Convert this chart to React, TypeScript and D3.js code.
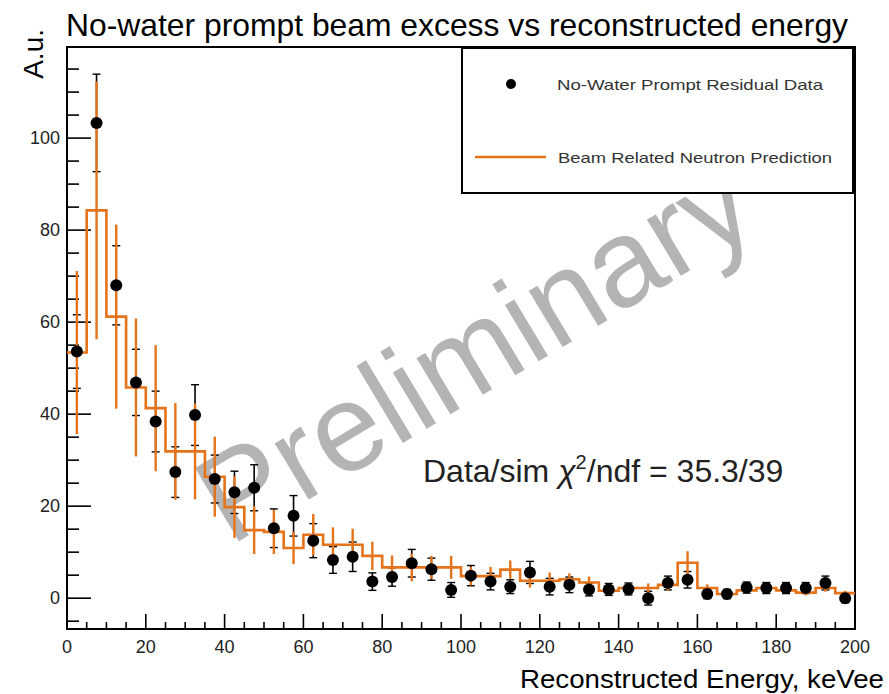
import React from "react";
import * as d3 from "d3";

const binCenters = [
  2.5, 7.5, 12.5, 17.5, 22.5, 27.5, 32.5, 37.5, 42.5, 47.5,
  52.5, 57.5, 62.5, 67.5, 72.5, 77.5, 82.5, 87.5, 92.5, 97.5,
  102.5, 107.5, 112.5, 117.5, 122.5, 127.5, 132.5, 137.5, 142.5, 147.5,
  152.5, 157.5, 162.5, 167.5, 172.5, 177.5, 182.5, 187.5, 192.5, 197.5,
];
const binWidth = 5;

const dataValues = [
  53.6, 103.3, 68.0, 46.9, 38.4, 27.4, 39.8, 25.9, 23.0, 24.0,
  15.2, 17.9, 12.5, 8.3, 9.0, 3.6, 4.6, 7.6, 6.3, 1.8,
  4.9, 3.6, 2.5, 5.6, 2.5, 2.9, 1.9, 1.9, 2.0, 0.0,
  3.3, 4.0, 0.9, 0.9, 2.3, 2.2, 2.2, 2.2, 3.3, 0.0,
];
const dataErrors = [
  8.0, 10.6, 8.6, 7.2, 6.6, 5.5, 6.6, 5.2, 4.6, 5.0,
  4.2, 4.4, 3.7, 2.9, 3.2, 1.9, 2.0, 3.0, 2.4, 1.6,
  2.2, 1.8, 1.5, 2.4, 1.8, 1.7, 1.4, 1.3, 1.3, 1.5,
  1.5, 1.8, 1.0, 1.0, 1.2, 1.2, 1.2, 1.2, 1.5, 1.0,
];
const predValues = [
  53.4, 84.3, 61.2, 45.8, 41.3, 31.9, 31.9, 26.4, 19.8, 14.8,
  14.4, 10.9, 13.8, 11.6, 11.6, 9.2, 6.7, 6.7, 6.7, 6.7,
  4.8, 4.8, 6.2, 3.8, 3.8, 4.1, 3.4, 1.6, 2.2, 2.2,
  2.9, 7.7, 2.2, 0.9, 1.7, 2.2, 1.7, 1.2, 2.2, 1.1,
];
const predErrors = [
  17.7, 28.0, 20.0, 15.0, 13.7, 10.5, 10.4, 8.7, 6.7, 5.2,
  4.8, 3.5, 4.5, 3.8, 3.5, 3.1, 2.6, 3.0, 2.5, 2.5,
  2.0, 2.0, 2.0, 1.5, 1.8, 1.3, 1.3, 0.8, 1.0, 1.0,
  1.2, 2.5, 0.8, 0.5, 0.6, 0.8, 0.7, 0.6, 0.8, 0.5,
];

const titleText = "No-water prompt beam excess vs reconstructed energy";
const xAxisTitle = "Reconstructed Energy, keVee";
const yAxisTitle = "A.u.";
const legendData = "No-Water Prompt Residual Data";
const legendPred = "Beam Related Neutron Prediction";
const watermark = "Preliminary";

const W = 889;
const H = 694;
const left = 67;
const right = 855;
const top = 47;
const bottom = 629;
const ORANGE = "#e5731a";
const FONT = "'Liberation Sans', Arial, Helvetica, sans-serif";

export default function App() {
  const x = d3.scaleLinear().domain([0, 200]).range([left, right]);
  const y = d3.scaleLinear().domain([-6.7, 119.8]).range([bottom, top]);

  const xMajor = x.ticks(10);
  const xMinor = x.ticks(40);
  const yMajor = y.ticks(6);
  const yMinor = y.ticks(25);

  const stepPts: [number, number][] = [];
  binCenters.forEach((c, i) => {
    stepPts.push([c - binWidth / 2, predValues[i]]);
    stepPts.push([c + binWidth / 2, predValues[i]]);
  });
  const stepLine = d3
    .line<[number, number]>()
    .x((d) => x(d[0]))
    .y((d) => y(d[1]));

  return (
    <svg
      width={W}
      height={H}
      style={{ position: "absolute", left: 0, top: 0, background: "#fff" }}
      fontFamily={FONT}
    >
      <rect x={0} y={0} width={W} height={H} fill="#fff" />
      {/* Title */}
      <text
        x={66}
        y={36}
        fontSize={32}
        textLength={782}
        lengthAdjust="spacingAndGlyphs"
        fill="#000"
      >
        {titleText}
      </text>

      {/* watermark */}
      <text
        x={0}
        y={0}
        transform="translate(474,350) rotate(-31)"
        fontSize={124}
        fill="#b4b4b4"
        textAnchor="middle"
        dominantBaseline="central"
      >
        {watermark}
      </text>

      {/* Frame */}
      <rect
        x={left}
        y={top}
        width={right - left}
        height={bottom - top}
        fill="none"
        stroke="#000"
        strokeWidth={2}
      />

      {/* Y ticks */}
      {yMinor.map((t) => (
        <line
          key={"ym" + t}
          x1={left}
          x2={left + (yMajor.includes(t) ? 24 : 12)}
          y1={y(t)}
          y2={y(t)}
          stroke="#000"
          strokeWidth={1.6}
        />
      ))}
      {yMajor.map((t) => (
        <text
          key={"yl" + t}
          x={60}
          y={y(t)}
          fontSize={18}
          textAnchor="end"
          dominantBaseline="central"
          fill="#222"
        >
          {t}
        </text>
      ))}

      {/* X ticks */}
      {xMinor.map((t) => (
        <line
          key={"xm" + t}
          x1={x(t)}
          x2={x(t)}
          y1={bottom}
          y2={bottom - (xMajor.includes(t) ? 15 : 7)}
          stroke="#000"
          strokeWidth={1.6}
        />
      ))}
      {xMajor.map((t) => (
        <text
          key={"xl" + t}
          x={x(t)}
          y={647}
          fontSize={18}
          textAnchor="middle"
          dominantBaseline="central"
          fill="#222"
        >
          {t}
        </text>
      ))}

      {/* Axis titles */}
      <text
        x={884}
        y={688}
        fontSize={25}
        textAnchor="end"
        textLength={364}
        lengthAdjust="spacingAndGlyphs"
      >
        {xAxisTitle}
      </text>
      <text
        transform="translate(43,29) rotate(-90)"
        fontSize={28}
        textAnchor="end"
      >
        {yAxisTitle}
      </text>

      {/* Data error bars (black) */}
      {binCenters.map((c, i) => {
        const cx = x(c);
        const y1 = y(dataValues[i] + dataErrors[i]);
        const y2 = y(dataValues[i] - dataErrors[i]);
        return (
          <g key={"de" + i} stroke="#000">
            <line x1={cx} x2={cx} y1={y1} y2={y2} strokeWidth={1.6} />
            <line x1={cx - 4} x2={cx + 4} y1={y1} y2={y1} strokeWidth={1.4} />
            <line x1={cx - 4} x2={cx + 4} y1={y2} y2={y2} strokeWidth={1.4} />
          </g>
        );
      })}

      {/* Prediction histogram */}
      <path
        d={stepLine(stepPts) || ""}
        fill="none"
        stroke={ORANGE}
        strokeWidth={2.6}
      />
      {binCenters.map((c, i) => (
        <line
          key={"pe" + i}
          x1={x(c)}
          x2={x(c)}
          y1={y(predValues[i] + predErrors[i])}
          y2={y(predValues[i] - predErrors[i])}
          stroke={ORANGE}
          strokeWidth={2.4}
        />
      ))}

      {/* Data points */}
      {binCenters.map((c, i) => (
        <circle
          key={"dp" + i}
          cx={x(c)}
          cy={y(dataValues[i])}
          r={6}
          fill="#000"
        />
      ))}

      {/* chi2 text */}
      <text x={423} y={482} fontSize={32} fill="#222">
        <tspan>Data/sim </tspan>
        <tspan fontStyle="italic">χ</tspan>
        <tspan fontSize={20} dy={-13}>
          2
        </tspan>
        <tspan dy={13}>/ndf = 35.3/39</tspan>
      </text>

      {/* Legend */}
      <rect
        x={462}
        y={48}
        width={391}
        height={145}
        fill="#fff"
        stroke="#000"
        strokeWidth={2}
      />
      <circle cx={511} cy={84} r={5} fill="#000" />
      <text
        x={557}
        y={84}
        fontSize={15}
        fill="#333"
        dominantBaseline="central"
        textLength={266}
        lengthAdjust="spacingAndGlyphs"
      >
        {legendData}
      </text>
      <line
        x1={475}
        x2={546}
        y1={157}
        y2={157}
        stroke={ORANGE}
        strokeWidth={2.6}
      />
      <text
        x={558}
        y={157}
        fontSize={15}
        fill="#333"
        dominantBaseline="central"
        textLength={274}
        lengthAdjust="spacingAndGlyphs"
      >
        {legendPred}
      </text>
    </svg>
  );
}
